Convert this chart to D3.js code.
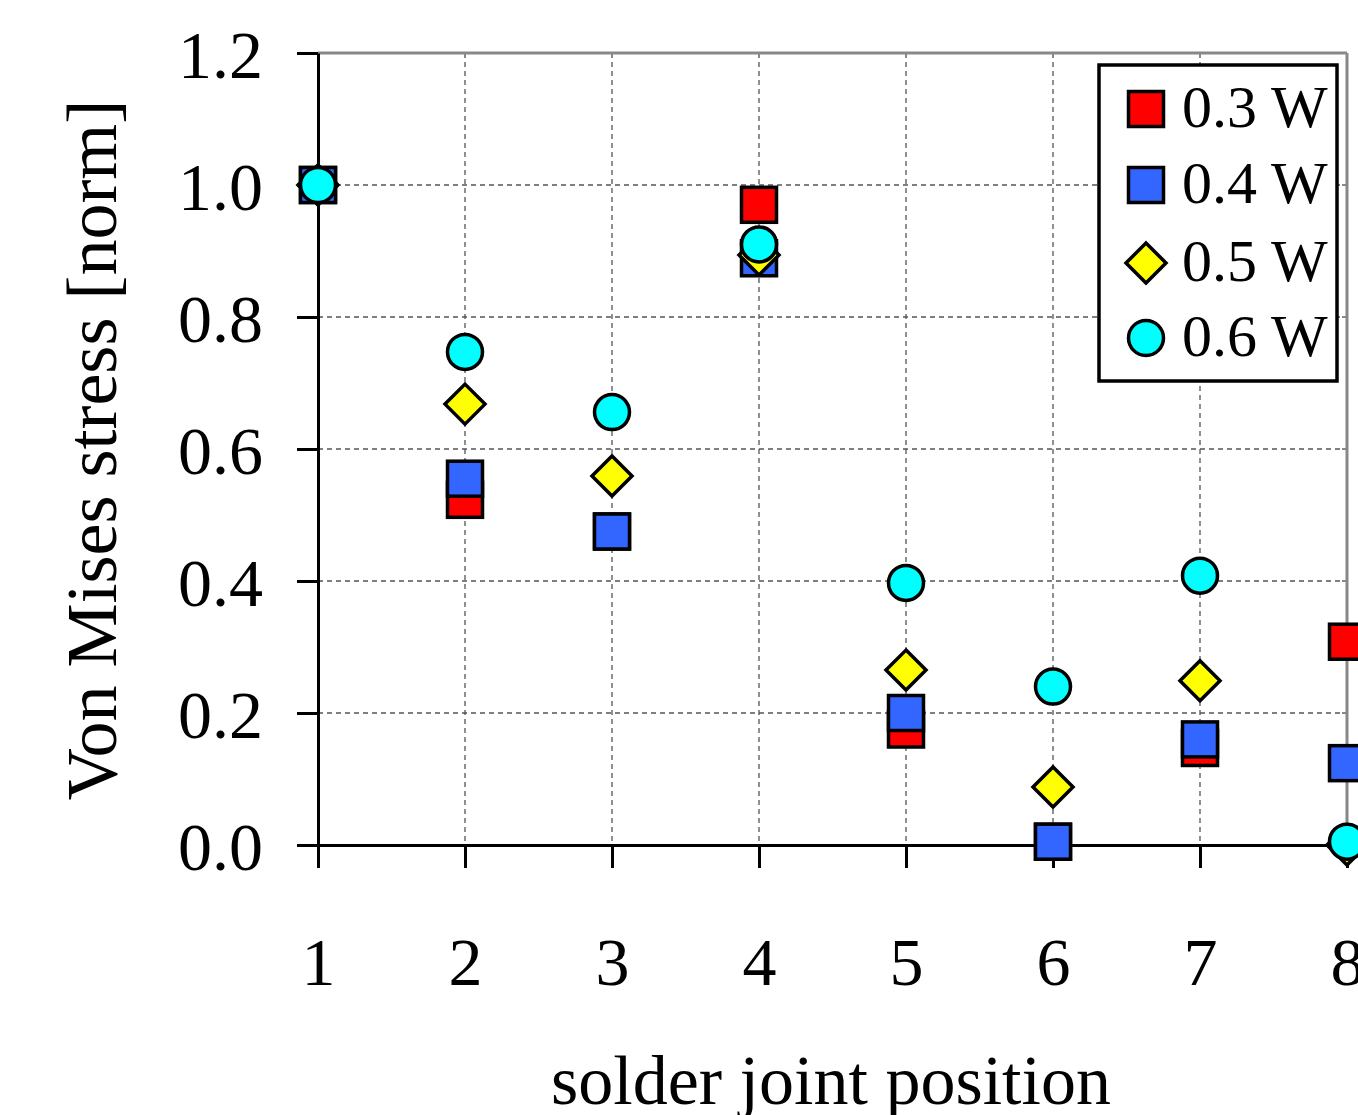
<!DOCTYPE html>
<html><head><meta charset="utf-8">
<script src="https://cdn.jsdelivr.net/npm/d3@7"></script>
<style>
html,body{margin:0;padding:0;background:#fff;overflow:hidden;}
text{font-family:"Liberation Serif","Times New Roman",serif;fill:#000;}
</style></head>
<body>
<svg id="chart" width="1358" height="1115"></svg>
<script>
// ---- data ----
const positions = [1, 2, 3, 4, 5, 6, 7, 8];
const yTicks = [0, 0.2, 0.4, 0.6, 0.8, 1.0, 1.2];
const seriesNames = ["0.3 W", "0.4 W", "0.5 W", "0.6 W"];
const s03 = [1.0, 0.523, 0.475, 0.970, 0.175, 0.005, 0.147, 0.308];
const s04 = [1.0, 0.555, 0.475, 0.889, 0.200, 0.005, 0.160, 0.124];
const s05 = [1.0, 0.668, 0.559, 0.894, 0.265, 0.088, 0.249, 0.000];
const s06 = [1.0, 0.747, 0.656, 0.910, 0.397, 0.240, 0.408, 0.005];
const xTitle = "solder joint position";
const yTitle = "Von Mises stress [norm]";

const series = [
  {name: seriesNames[0], values: s03, shape: "square", fill: "#ff0000"},
  {name: seriesNames[1], values: s04, shape: "square", fill: "#3366ff"},
  {name: seriesNames[2], values: s05, shape: "diamond", fill: "#ffff00"},
  {name: seriesNames[3], values: s06, shape: "circle", fill: "#00ffff"}
];

const svg = d3.select("#chart");
const L = 318, R = 1347, T = 53, B = 845;
const x = d3.scaleLinear().domain([1, 8]).range([L, R]);
const y = d3.scaleLinear().domain([0, 1.2]).range([B, T]);

// gridlines
const grid = svg.append("g").attr("stroke", "#555").attr("stroke-width", 1.3).attr("stroke-dasharray", "5,4");
grid.selectAll("line.h").data(yTicks.filter(d => d > 0 && d < 1.2)).join("line")
  .attr("x1", L).attr("x2", R).attr("y1", d => y(d)).attr("y2", d => y(d));
grid.selectAll("line.v").data(positions.filter(d => d > 1 && d < 8)).join("line")
  .attr("y1", T).attr("y2", B).attr("x1", d => x(d)).attr("x2", d => x(d));

// gray frame (top/right)
const frame = svg.append("g").attr("stroke", "#888").attr("stroke-width", 3).attr("fill", "none");
frame.append("line").attr("x1", L).attr("x2", R).attr("y1", T).attr("y2", T);
frame.append("line").attr("x1", R).attr("x2", R).attr("y1", T).attr("y2", B);
frame.selectAll("line.tt").data(positions.filter(d => d > 1 && d < 8)).join("line")
  .attr("x1", d => x(d)).attr("x2", d => x(d)).attr("y1", T).attr("y2", T + 5).attr("stroke-width", 2);
frame.selectAll("line.rt").data(yTicks.filter(d => d > 0 && d < 1.2)).join("line")
  .attr("x1", R - 5).attr("x2", R).attr("y1", d => y(d)).attr("y2", d => y(d)).attr("stroke-width", 2);

// y axis
const yAxis = svg.append("g").attr("transform", `translate(${L},0)`)
  .call(d3.axisLeft(y).tickValues(yTicks).tickFormat(d3.format(".1f")).tickSize(21).tickSizeOuter(0).tickPadding(34));
yAxis.select(".domain").attr("stroke", "#000").attr("stroke-width", 3);
yAxis.selectAll(".tick line").attr("stroke", "#000").attr("stroke-width", 3);
yAxis.selectAll(".tick text").attr("font-size", 68).attr("font-family", "Liberation Serif").attr("dy", "0.36em").attr("fill", "#000");

// x axis
const xAxis = svg.append("g").attr("transform", `translate(0,${B})`)
  .call(d3.axisBottom(x).tickValues(positions).tickFormat(d3.format("d")).tickSize(23).tickSizeOuter(0).tickPadding(69));
xAxis.select(".domain").attr("stroke", "#000").attr("stroke-width", 3);
xAxis.selectAll(".tick line").attr("stroke", "#000").attr("stroke-width", 3);
xAxis.selectAll(".tick text").attr("font-size", 68).attr("font-family", "Liberation Serif").attr("dy", "0.71em").attr("fill", "#000");

// titles
svg.append("text").attr("x", 831).attr("y", 1104).attr("text-anchor", "middle")
  .attr("font-size", 70).text(xTitle);
svg.append("text").attr("transform", "translate(116,450) rotate(-90)").attr("text-anchor", "middle")
  .attr("font-size", 72).text(yTitle);

// markers
const sqSize = 35, dia = 20, rad = 17.5;
function drawMarker(g, shape, fill, cx, cy) {
  if (shape === "square") {
    g.append("rect").attr("x", cx - sqSize / 2).attr("y", cy - sqSize / 2).attr("width", sqSize).attr("height", sqSize)
      .attr("fill", fill).attr("stroke", "#000").attr("stroke-width", 3.5);
  } else if (shape === "diamond") {
    g.append("path").attr("d", `M${cx},${cy - dia}L${cx + dia},${cy}L${cx},${cy + dia}L${cx - dia},${cy}Z`)
      .attr("fill", fill).attr("stroke", "#000").attr("stroke-width", 3.5).attr("stroke-linejoin", "miter");
  } else {
    g.append("circle").attr("cx", cx).attr("cy", cy).attr("r", rad)
      .attr("fill", fill).attr("stroke", "#000").attr("stroke-width", 3.5);
  }
}
const marks = svg.append("g");
series.forEach(s => {
  const g = marks.append("g");
  s.values.forEach((v, i) => drawMarker(g, s.shape, s.fill, x(positions[i]), y(v)));
});

// legend
const lg = svg.append("g");
lg.append("rect").attr("x", 1099).attr("y", 65).attr("width", 238).attr("height", 316)
  .attr("fill", "#fff").attr("stroke", "#000").attr("stroke-width", 3.5);
const rowY = [109, 185, 263, 338];
series.forEach((s, i) => {
  drawMarker(lg, s.shape, s.fill, 1146, rowY[i]);
  lg.append("text").attr("x", 1182).attr("y", rowY[i] + 18).attr("font-size", 60).text(s.name);
});
</script>
</body></html>
